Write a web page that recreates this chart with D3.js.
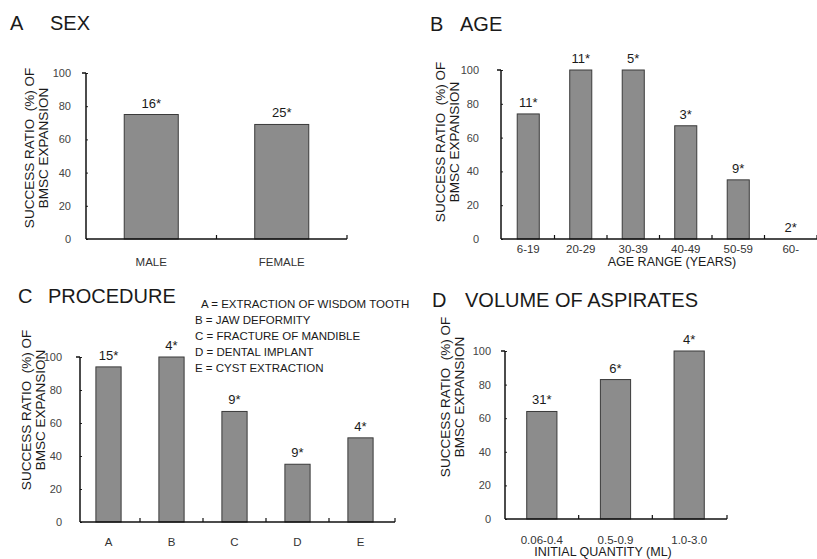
<!DOCTYPE html>
<html>
<head>
<meta charset="utf-8">
<script src="https://cdn.jsdelivr.net/npm/d3@7"></script>
<style>
  body { margin: 0; background: #fff; }
  svg { display: block; font-family: "Liberation Sans", Arial, sans-serif; }
</style>
</head>
<body>
<div id="chart"></div>
<script>
// values
const sexCats = ['MALE', 'FEMALE'];
const sexValues = [75, 69];
const sexCounts = ['16*', '25*'];

const ageCats = ['6-19', '20-29', '30-39', '40-49', '50-59', '60-'];
const ageValues = [74, 100, 100, 67, 35, 0];
const ageCounts = ['11*', '11*', '5*', '3*', '9*', '2*'];

const procCats = ['A', 'B', 'C', 'D', 'E'];
const procValues = [94, 100, 67, 35, 51];
const procCounts = ['15*', '4*', '9*', '9*', '4*'];
const procLegend = [
    'A = EXTRACTION OF WISDOM TOOTH',
    'B = JAW DEFORMITY',
    'C = FRACTURE OF MANDIBLE',
    'D = DENTAL IMPLANT',
    'E = CYST EXTRACTION'];

const volCats = ['0.06-0.4', '0.5-0.9', '1.0-3.0'];
const volValues = [64, 83, 100];
const volCounts = ['31*', '6*', '4*'];

const yTicks = [0, 20, 40, 60, 80, 100];
const yTitle = ['SUCCESS RATIO  (%) OF', 'BMSC EXPANSION'];

const W = 817, H = 559;
const svg = d3.select('#chart').append('svg')
    .attr('width', W)
    .attr('height', H);

function panel(p) {
    let g = svg.append('g');

    let x = d3.scaleBand()
        .domain(p.cats)
        .range(p.band)
        .paddingInner(p.pad)
        .paddingOuter(p.pad / 2);

    let y = d3.scaleLinear()
        .domain([0, 100])
        .range([p.base, p.top]);

    // title
    g.append('text')
        .attr('x', p.letterX).attr('y', p.titleY)
        .attr('font-size', 20).attr('fill', '#1a1a1a')
        .text(p.letter);
    g.append('text')
        .attr('x', p.titleX).attr('y', p.titleY)
        .attr('font-size', 20).attr('fill', '#1a1a1a')
        .text(p.title);

    // bars
    g.selectAll('rect.bar')
        .data(p.values)
        .join('rect')
        .attr('class', 'bar')
        .attr('x', (d, i) => x(p.cats[i]))
        .attr('y', d => y(d))
        .attr('width', x.bandwidth())
        .attr('height', d => p.base - y(d))
        .attr('fill', '#8c8c8c')
        .attr('stroke', '#3a3a3a')
        .attr('stroke-width', 1);

    // n labels above bars
    g.selectAll('text.cnt')
        .data(p.counts)
        .join('text')
        .attr('class', 'cnt')
        .attr('x', (d, i) => x(p.cats[i]) + x.bandwidth() / 2)
        .attr('y', (d, i) => y(p.values[i]) - 7)
        .attr('text-anchor', 'middle')
        .attr('font-size', 13)
        .attr('fill', '#1a1a1a')
        .text(d => d);

    // y axis
    let yAxis = g.append('g')
        .attr('transform', `translate(${p.axisX},0)`)
        .call(d3.axisLeft(y).tickValues(yTicks).tickSize(3).tickPadding(p.tickPad));
    yAxis.select('.domain').remove();
    yAxis.selectAll('line').attr('stroke', '#222').attr('x2', 2);
    yAxis.selectAll('text')
        .attr('font-size', 11)
        .attr('fill', '#444')
        .attr('font-family', '"Liberation Sans", Arial, sans-serif');

    g.append('line')
        .attr('x1', p.axisX).attr('x2', p.axisX)
        .attr('y1', p.top).attr('y2', p.base)
        .attr('stroke', '#111').attr('stroke-width', 1.5);
    g.append('line')
        .attr('x1', p.axisX - 4).attr('x2', p.axisX)
        .attr('y1', p.top).attr('y2', p.top)
        .attr('stroke', '#111').attr('stroke-width', 1.5);

    // x axis
    g.append('line')
        .attr('x1', p.axisX).attr('x2', p.axisEnd)
        .attr('y1', p.base).attr('y2', p.base)
        .attr('stroke', '#111').attr('stroke-width', 1.5);
    let bounds = p.cats.slice(1).map(c => x(c) - x.step() * p.pad / 2);
    bounds.push(p.axisEnd);
    g.selectAll('line.xt')
        .data(bounds)
        .join('line')
        .attr('class', 'xt')
        .attr('x1', d => d).attr('x2', d => d)
        .attr('y1', p.base).attr('y2', p.base - 4)
        .attr('stroke', '#111').attr('stroke-width', 1.2);

    g.selectAll('text.cat')
        .data(p.cats)
        .join('text')
        .attr('class', 'cat')
        .attr('x', d => x(d) + x.bandwidth() / 2)
        .attr('y', p.base + p.catDy)
        .attr('text-anchor', 'middle')
        .attr('font-size', p.catSize)
        .attr('fill', '#333')
        .text(d => d);

    if (p.xTitle) {
        g.append('text')
            .attr('x', p.xTitleX).attr('y', p.xTitleY)
            .attr('text-anchor', 'middle')
            .attr('font-size', 12.5)
            .attr('fill', '#1a1a1a')
            .text(p.xTitle);
    }

    // rotated y title, two lines
    g.selectAll('text.yt')
        .data(yTitle)
        .join('text')
        .attr('class', 'yt')
        .attr('transform', (d, i) => `translate(${p.yTitleX + i * 14},${p.yTitleCy}) rotate(-90)`)
        .attr('text-anchor', 'middle')
        .attr('font-size', 13.5)
        .attr('fill', '#1a1a1a')
        .style('white-space', 'pre')
        .text(d => d);

    return g;
}

panel({
    letter: 'A', title: 'SEX', letterX: 10, titleX: 50, titleY: 30,
    cats: sexCats, values: sexValues, counts: sexCounts,
    band: [86, 347], pad: 0.586, axisX: 86, axisEnd: 347,
    top: 73, base: 239, tickPad: 12,
    catDy: 27, catSize: 11.5,
    yTitleX: 34, yTitleCy: 148
});

panel({
    letter: 'B', title: 'AGE', letterX: 430, titleX: 460, titleY: 31,
    cats: ageCats, values: ageValues, counts: ageCounts,
    band: [502, 817], pad: 0.58, axisX: 501, axisEnd: 817,
    top: 70, base: 239, tickPad: 19,
    catDy: 14, catSize: 11.5,
    xTitle: 'AGE RANGE (YEARS)', xTitleX: 672, xTitleY: 266,
    yTitleX: 445, yTitleCy: 142
});

let pc = panel({
    letter: 'C', title: 'PROCEDURE', letterX: 18, titleX: 48, titleY: 303,
    cats: procCats, values: procValues, counts: procCounts,
    band: [77, 392], pad: 0.6, axisX: 80, axisEnd: 395,
    top: 357, base: 522, tickPad: 15,
    catDy: 24, catSize: 11.5,
    yTitleX: 31, yTitleCy: 410
});

pc.selectAll('text.leg')
    .data(procLegend)
    .join('text')
    .attr('class', 'leg')
    .attr('x', (d, i) => i === 0 ? 201 : 195)
    .attr('y', (d, i) => 308 + i * 16)
    .attr('font-size', 11.5)
    .attr('fill', '#1a1a1a')
    .text(d => d);

panel({
    letter: 'D', title: 'VOLUME OF ASPIRATES', letterX: 432, titleX: 465, titleY: 307,
    cats: volCats, values: volValues, counts: volCounts,
    band: [505, 726], pad: 0.59, axisX: 505, axisEnd: 727,
    top: 351, base: 519, tickPad: 11,
    catDy: 25, catSize: 11.5,
    xTitle: 'INITIAL QUANTITY (ML)', xTitleX: 603, xTitleY: 556,
    yTitleX: 450, yTitleCy: 397
});
</script>
</body>
</html>
